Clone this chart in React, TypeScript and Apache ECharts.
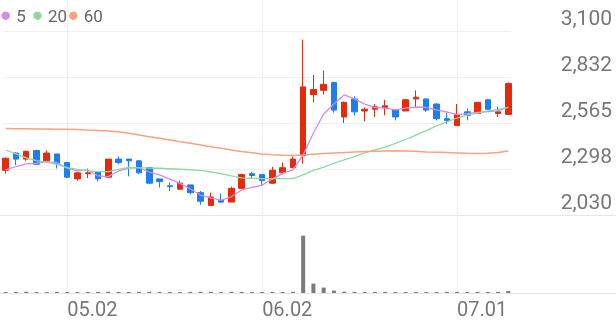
import React, { useEffect, useRef } from "react";
import * as echarts from "echarts";

const dates = [
  "04.23", "04.24", "04.25", "04.28", "04.29", "04.30", "05.02", "05.07", "05.08", "05.09",
  "05.12", "05.13", "05.14", "05.15", "05.16", "05.19", "05.20", "05.21", "05.22", "05.23",
  "05.26", "05.27", "05.28", "05.29", "05.30", "06.02", "06.04", "06.05", "06.09", "06.10",
  "06.11", "06.12", "06.13", "06.16", "06.17", "06.18", "06.19", "06.20", "06.23", "06.24",
  "06.25", "06.26", "06.27", "06.30", "07.01", "07.02", "07.03", "07.04", "07.07", "07.08",
];
const tickDates = ["05.02", "06.02", "07.01"];

const opens = [
  2290, 2390, 2355, 2405, 2345, 2385, 2335, 2240, 2270, 2280,
  2250, 2355, 2355, 2345, 2305, 2240, 2200, 2180, 2205, 2160,
  2085, 2115, 2105, 2185, 2270, 2265, 2215, 2275, 2305, 2375,
  2730, 2755, 2800, 2600, 2705, 2635, 2645, 2655, 2640, 2635,
  2705, 2705, 2675, 2590, 2550, 2630, 2620, 2700, 2620, 2615,
];
const closes = [
  2360, 2355, 2400, 2325, 2390, 2330, 2250, 2275, 2275, 2240,
  2355, 2335, 2345, 2275, 2215, 2225, 2195, 2215, 2160, 2110,
  2135, 2105, 2185, 2265, 2260, 2230, 2290, 2305, 2355, 2775,
  2760, 2790, 2640, 2685, 2630, 2645, 2660, 2665, 2600, 2700,
  2715, 2640, 2590, 2580, 2615, 2610, 2685, 2645, 2630, 2795,
];
const lows = [
  2270, 2320, 2345, 2325, 2340, 2300, 2245, 2230, 2245, 2225,
  2245, 2325, 2255, 2270, 2210, 2190, 2170, 2180, 2150, 2090,
  2085, 2100, 2105, 2180, 2240, 2205, 2210, 2265, 2305, 2330,
  2685, 2730, 2625, 2565, 2610, 2575, 2600, 2610, 2580, 2635,
  2655, 2630, 2580, 2560, 2550, 2580, 2620, 2645, 2600, 2615,
];
const highs = [
  2365, 2395, 2405, 2405, 2405, 2385, 2340, 2280, 2300, 2285,
  2355, 2370, 2355, 2350, 2305, 2240, 2220, 2230, 2205, 2170,
  2160, 2155, 2195, 2270, 2280, 2265, 2310, 2335, 2370, 3050,
  2845, 2870, 2805, 2690, 2720, 2655, 2675, 2700, 2645, 2705,
  2755, 2705, 2680, 2625, 2675, 2650, 2685, 2705, 2660, 2800,
];
const volumes = [
  11000, 10000, 12000, 10000, 9000, 11000, 10000, 9000, 10000, 11000,
  12000, 10000, 9000, 11000, 12000, 10000, 10000, 9000, 11000, 12000,
  11000, 9000, 12000, 11000, 10000, 10000, 11000, 10000, 12000, 573000,
  94000, 54000, 24000, 13000, 11000, 10000, 10000, 11000, 10000, 10000,
  10000, 9000, 10000, 11000, 10000, 10000, 11000, 10000, 11000, 20000,
];
const ma5 = [
  2292, 2312, 2327, 2331, 2340, 2334, 2302, 2286, 2292, 2257,
  2253, 2286, 2303, 2305, 2280, 2263, 2239, 2214, 2181, 2146,
  2129, 2117, 2136, 2175, 2190, 2204, 2239, 2272, 2292, 2379,
  2507, 2617, 2675, 2728, 2705, 2675, 2655, 2652, 2641, 2652,
  2658, 2655, 2641, 2629, 2614, 2620, 2626, 2632, 2635, 2658,
];
const ma20 = [
  2408, 2385, 2362, 2346, 2337, 2324, 2306, 2295, 2287, 2282,
  2282, 2295, 2307, 2306, 2303, 2302, 2299, 2296, 2293, 2289,
  2280, 2271, 2257, 2246, 2243, 2242, 2242, 2242, 2242, 2263,
  2289, 2309, 2330, 2350, 2370, 2391, 2408, 2425, 2446, 2469,
  2495, 2521, 2548, 2571, 2594, 2612, 2623, 2635, 2644, 2655,
];
const ma60 = [
  2533, 2532, 2531, 2530, 2530, 2529, 2528, 2527, 2524, 2522,
  2519, 2514, 2505, 2495, 2485, 2476, 2466, 2456, 2447, 2437,
  2427, 2418, 2408, 2399, 2392, 2385, 2380, 2377, 2376, 2379,
  2383, 2387, 2391, 2393, 2396, 2399, 2401, 2402, 2403, 2402,
  2400, 2397, 2395, 2393, 2391, 2389, 2388, 2389, 2393, 2402,
];
const priceTicks = ["2,030", "2,298", "2,565", "2,832", "3,100"];
const legendNames = ["5", "20", "60"];
const priceMin = 2030;
const priceAxisTop = 3280.27;
const volumeMax = 780000;

const RED = "#e52b0c";
const BLUE = "#1b7ff0";
const MA_COLORS = ["#d48be9", "#8fd9a0", "#f8a27e"];
const LEGEND_X = [5.7, 37.5, 73.3];
const FONT = "Roboto";

export default function App() {
  const ref = useRef<HTMLDivElement>(null);
  useEffect(() => {
    const chart = echarts.init(ref.current!, null, { renderer: "svg" });
    const candles = dates.map((_, i) => [opens[i], closes[i], lows[i], highs[i]]);
    const isTick = (_i: number, v: string) => tickDates.includes(v);
    const split = { show: true, interval: isTick, lineStyle: { color: "#efefef", width: 1 } };
    const maData = [ma5, ma20, ma60];
    const legendGraphics = legendNames.flatMap((name, k) => [
      {
        type: "circle", z: 100,
        shape: { cx: LEGEND_X[k], cy: 15.7, r: 4.2 },
        style: { fill: MA_COLORS[k] },
      },
      {
        type: "text", z: 100, x: LEGEND_X[k] + 10.5, y: 15.7,
        style: {
          text: name, fill: "#666", fontSize: 17, fontFamily: FONT,
          verticalAlign: "middle", align: "left",
        },
      },
    ]);
    chart.setOption({
      animation: false,
      textStyle: { fontFamily: FONT },
      graphic: legendGraphics,
      grid: [
        { left: 5.7, width: 502.6, top: 0, height: 215 },
        { left: 3, right: 105, top: 31, height: 184 },
        { left: 5.7, width: 502.6, top: 215, height: 78 },
        { left: 0, right: 0, top: 215, height: 78 },
      ],
      xAxis: [
        {
          gridIndex: 0, type: "category", data: dates, boundaryGap: false,
          axisLine: { show: false }, axisTick: { show: false }, axisLabel: { show: false },
          splitLine: split,
        },
        { gridIndex: 1, type: "value", min: 0, max: 1, show: false },
        {
          gridIndex: 2, type: "category", data: dates, boundaryGap: false,
          axisLine: { show: false }, axisTick: { show: false },
          axisLabel: {
            interval: isTick, align: "left", margin: 6, fontSize: 20,
            color: "#777", fontFamily: FONT,
          },
          splitLine: split,
        },
        { gridIndex: 3, type: "value", min: 0, max: 1, show: false },
      ],
      yAxis: [
        { gridIndex: 0, type: "value", min: priceMin, max: priceAxisTop, show: false },
        {
          gridIndex: 1, type: "value", min: 0, max: 4, interval: 1, position: "right",
          axisLine: { show: false }, axisTick: { show: false },
          splitLine: { show: true, lineStyle: { color: "#f0f0f0", width: 1 } },
          axisLabel: {
            formatter: (v: number) => priceTicks[v],
            align: "right", margin: 101, fontSize: 21, color: "#777",
            fontFamily: FONT, verticalAlign: "bottom", lineHeight: 27,
          },
        },
        { gridIndex: 2, type: "value", min: 0, max: volumeMax, show: false },
        {
          gridIndex: 3, type: "value", min: 0, max: 1, interval: 1,
          axisLine: { show: false }, axisTick: { show: false }, axisLabel: { show: false },
          splitLine: { show: true, lineStyle: { color: "#e6e6e6", width: 1 } },
        },
      ],
      series: [
        {
          type: "candlestick", xAxisIndex: 0, yAxisIndex: 0, data: candles, barWidth: 6,
          itemStyle: { color: RED, color0: BLUE, borderColor: RED, borderColor0: BLUE, borderWidth: 1 },
        },
        ...legendNames.map((name, k) => ({
          name, type: "line", xAxisIndex: 0, yAxisIndex: 0, data: maData[k], symbol: "none",
          color: MA_COLORS[k], lineStyle: { width: k === 2 ? 1.5 : 1.3 },
        })),
        {
          type: "bar", xAxisIndex: 2, yAxisIndex: 2, data: volumes, barWidth: 4,
          itemStyle: { color: "#7b7b7b" },
        },
      ],
    });
    return () => chart.dispose();
  }, []);
  return <div ref={ref} style={{ position: "fixed", left: 0, top: 0, width: 616, height: 321 }} />;
}
